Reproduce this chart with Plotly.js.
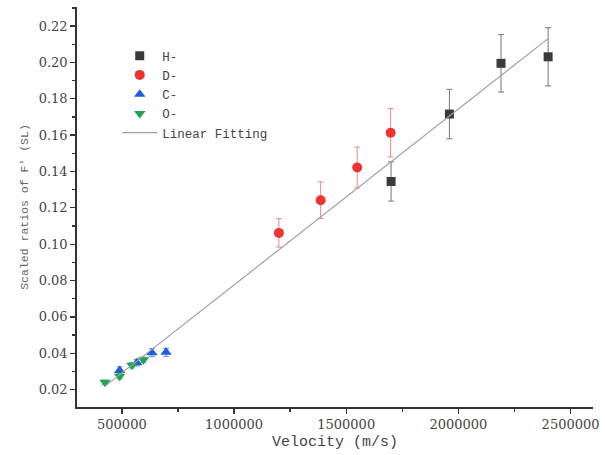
<!DOCTYPE html>
<html>
<head>
<meta charset="utf-8">
<script src="https://cdn.plot.ly/plotly-3.0.1.min.js"></script>
<style>html,body{margin:0;padding:0;background:#fff;}#chart{width:605px;height:455px;}</style>
</head>
<body>
<div id="chart"></div>
<script>
// H- series
const hX = [1700000, 1960000, 2190000, 2400000];
const hY = [0.1345, 0.1716, 0.1995, 0.2031];
const hErr = [0.0108, 0.0136, 0.0158, 0.0160];
// D- series
const dX = [1200000, 1386000, 1549000, 1698000];
const dY = [0.1062, 0.1242, 0.1422, 0.1613];
const dErr = [0.0078, 0.0101, 0.0112, 0.0133];
// C- series
const cX = [490000, 567000, 634000, 697000];
const cY = [0.0305, 0.0348, 0.0403, 0.0405];
const cErr = [0.0020, 0.0018, 0.0022, 0.0022];
// O- series
const oX = [425000, 490000, 545000, 596000];
const oY = [0.0240, 0.0273, 0.0334, 0.0364];
const oErr = [0.0012, 0.0015, 0.0015, 0.0015];
// Linear fitting line
const fitX = [425000, 2400000];
const fitY = [0.0219, 0.2131];

const xTicks = [500000, 1000000, 1500000, 2000000, 2500000];
const yTicks = [0.02, 0.04, 0.06, 0.08, 0.10, 0.12, 0.14, 0.16, 0.18, 0.20, 0.22];

function errObj(arr, color) {
  return {type: 'data', array: arr, visible: true, color: color, thickness: 1, width: 3};
}

const traces = [
  {x: hX, y: hY, name: 'H-', mode: 'markers', type: 'scatter',
   marker: {symbol: 'square', size: 9, color: '#3a3a3a'},
   error_y: errObj(hErr, '#777777')},
  {x: dX, y: dY, name: 'D-', mode: 'markers', type: 'scatter',
   marker: {symbol: 'circle', size: 10, color: '#ee3333'},
   error_y: errObj(dErr, '#ee8888')},
  {x: cX, y: cY, name: 'C-', mode: 'markers', type: 'scatter',
   marker: {symbol: 'triangle-up', size: 10, color: '#1f5fd6'},
   error_y: errObj(cErr, '#5b8be0')},
  {x: oX, y: oY, name: 'O-', mode: 'markers', type: 'scatter',
   marker: {symbol: 'triangle-down', size: 10, color: '#22a05a'},
   error_y: errObj(oErr, '#5fbf85')},
  {x: fitX, y: fitY, name: 'Linear Fitting', mode: 'lines', type: 'scatter',
   line: {color: '#a0a0a0', width: 1.2}}
];

const SERIF = "DejaVu Serif";
const MONO = "Liberation Mono";
const axisFont = {family: SERIF, size: 13, color: '#444'};

const layout = {
  width: 605, height: 455,
  margin: {l: 77, r: 12, t: 7, b: 48},
  paper_bgcolor: '#fff', plot_bgcolor: '#fff',
  showlegend: true,
  legend: {
    x: 0.078, y: 0.915, xanchor: 'left', yanchor: 'top',
    bgcolor: 'rgba(0,0,0,0)', borderwidth: 0,
    font: {family: MONO, size: 12.5, color: '#444'},
    tracegroupgap: 0, itemwidth: 35
  },
  xaxis: {
    range: [300000, 2600000],
    tickvals: xTicks, ticktext: xTicks.map(v => String(v)),
    ticks: 'outside', ticklen: 5, tickwidth: 1.3, tickcolor: '#333',
    showline: true, linecolor: '#333', linewidth: 1.8,
    showgrid: false, zeroline: false, mirror: false,
    tickfont: axisFont,
    minor: {dtick: 250000, tick0: 250000, ticks: 'outside', ticklen: 3, tickcolor: '#333', showgrid: false},
    title: {text: 'Velocity (m/s)', font: {family: MONO, size: 15, color: '#444'}, standoff: 4}
  },
  yaxis: {
    range: [0.0104, 0.2305],
    tickvals: yTicks, ticktext: yTicks.map(v => v.toFixed(2)),
    ticks: 'outside', ticklen: 5, tickwidth: 1.3, tickcolor: '#333',
    showline: true, linecolor: '#333', linewidth: 1.8,
    showgrid: false, zeroline: false, mirror: false,
    tickfont: axisFont,
    minor: {dtick: 0.01, tick0: 0.01, ticks: 'outside', ticklen: 3, tickcolor: '#333', showgrid: false},
    title: {text: "Scaled ratios of F' (SL)", font: {family: MONO, size: 11.5, color: '#666'}, standoff: 8}
  }
};

Plotly.newPlot('chart', traces, layout, {displayModeBar: false, staticPlot: true});
</script>
</body>
</html>
